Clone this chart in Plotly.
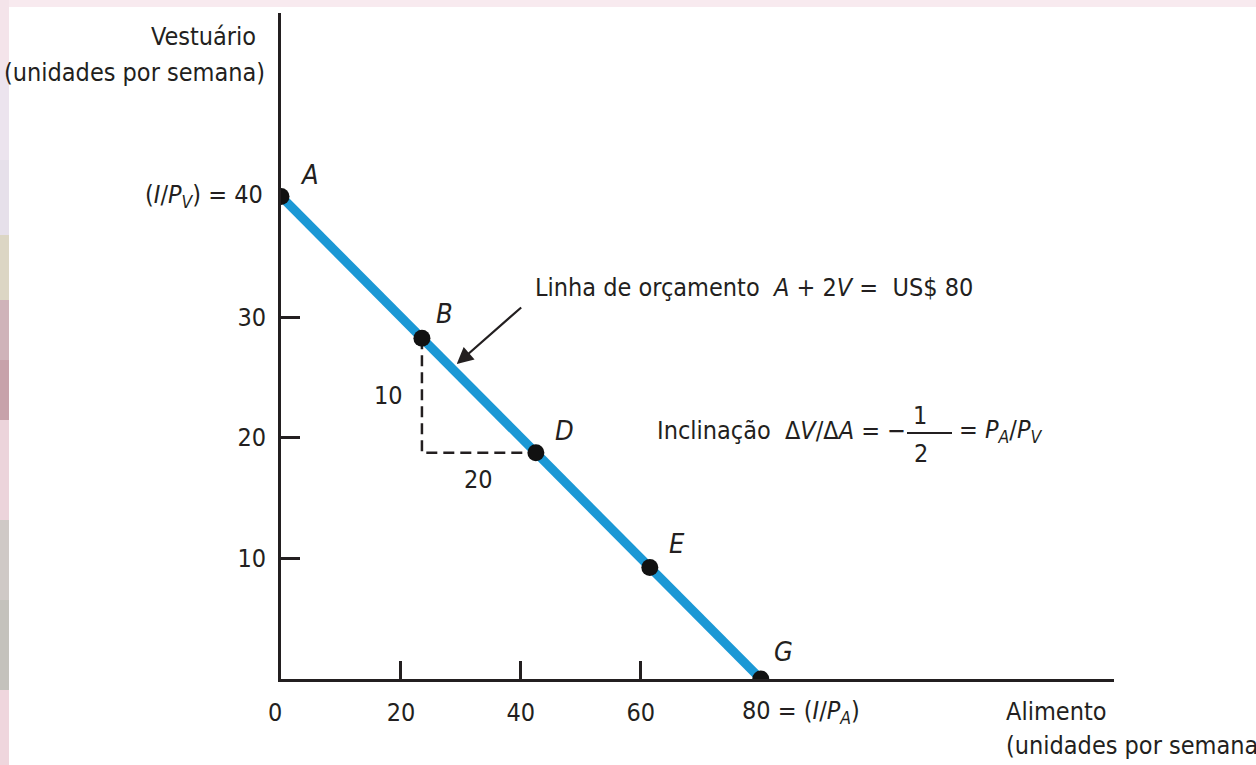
import plotly.graph_objects as go

# Budget line A + 2V = 80: intercepts on each axis
budget_food = [0, 80]
budget_clothing = [40, 0]

# Market baskets marked on the budget line
basket_names = ["A", "B", "D", "E", "G"]
basket_food = [0, 23.5, 42.5, 61.5, 80]
basket_clothing = [40, 28.25, 18.75, 9.25, 0]

# Rise/run triangle between B and D
rise_label = "10"
run_label = "20"

x_tick_vals = [20, 40, 60]
y_tick_vals = [10, 20, 30]

W, H = 1256, 765
ML, MR, MT, MB = 281, 142, 13, 86
X_MAX = 138.9
Y_MAX = 55.2

FONT = "DejaVu Sans Condensed, Liberation Sans Narrow, Arial Narrow, sans-serif"
INK = "#231f20"
BLUE = "#1b98d5"
FS = 25


def px(x):
    return (x - ML) / (W - ML - MR)


def py(y):
    return (H - MB - y) / (H - MT - MB)


def txt(size=FS):
    return dict(size=size, color=INK, family=FONT)


fig = go.Figure()

# dashed rise/run guide
bx, by = basket_food[1], basket_clothing[1]
dx, dy = basket_food[2], basket_clothing[2]
fig.add_trace(go.Scatter(
    x=[bx, bx, dx], y=[by, dy, dy], mode="lines",
    line=dict(color=INK, width=2.5, dash="11px,6px"),
    hoverinfo="skip", showlegend=False,
))

# budget line
fig.add_trace(go.Scatter(
    x=budget_food, y=budget_clothing, mode="lines",
    line=dict(color=BLUE, width=9),
    hoverinfo="skip", showlegend=False,
))

# baskets
fig.add_trace(go.Scatter(
    x=basket_food, y=basket_clothing, mode="markers",
    marker=dict(color="#111111", size=17),
    hoverinfo="skip", showlegend=False,
))

ann = []
label_offsets = {"A": (28, 22), "B": (23, 25), "D": (29, 22), "E": (27, 24), "G": (23, 28)}
for name, fx, cy in zip(basket_names, basket_food, basket_clothing):
    sx, sy = label_offsets[name]
    ann.append(dict(x=fx, y=cy, xref="x", yref="y", text=f"<i>{name}</i>",
                    showarrow=False, xshift=sx, yshift=sy, font=txt(27)))

# rise and run labels
ann.append(dict(x=bx, y=(by + dy) / 2, xref="x", yref="y", text=rise_label,
                showarrow=False, xanchor="right", xshift=-17, font=txt()))
ann.append(dict(x=(bx + dx) / 2, y=dy, xref="x", yref="y", text=run_label,
                showarrow=False, yshift=-27, font=txt()))

# intercept labels
ann.append(dict(x=0, y=budget_clothing[0], xref="x", yref="y",
                text="(<i>I</i>/<i>P<sub>V</sub></i>) = 40",
                showarrow=False, xanchor="right", xshift=-16, font=txt()))
ann.append(dict(x=budget_food[1], y=0, xref="x", yref="y",
                text="80 = (<i>I</i>/<i>P<sub>A</sub></i>)",
                showarrow=False, xanchor="left", xshift=-21, yshift=-33,
                font=txt()))
ann.append(dict(x=0, y=0, xref="x", yref="y", text="0",
                showarrow=False, xshift=-6, yshift=-33, font=txt()))

# arrow pointing at the budget line
ann.append(dict(x=29.3, y=26.1, xref="x", yref="y", ax=40.3, ay=30.9,
                axref="x", ayref="y", text="", showarrow=True,
                arrowhead=2, arrowsize=1.5, arrowwidth=2.2, arrowcolor=INK))
ann.append(dict(x=px(533), y=py(287), xref="paper", yref="paper",
                text="Linha de orçamento\u00a0 <i>A</i> + 2<i>V</i> =\u00a0 US$ 80",
                showarrow=False, xanchor="left", yanchor="middle", font=txt()))

# slope annotation with a stacked fraction
ann.append(dict(x=px(655), y=py(431), xref="paper", yref="paper",
                text="Inclinação\u00a0 Δ<i>V</i>/Δ<i>A</i> = −",
                showarrow=False, xanchor="left", yanchor="middle", font=txt()))
ann.append(dict(x=px(929), y=py(415), xref="paper", yref="paper", text="1",
                showarrow=False, yanchor="middle", font=txt()))
ann.append(dict(x=px(930), y=py(453), xref="paper", yref="paper", text="2",
                showarrow=False, yanchor="middle", font=txt()))
ann.append(dict(x=px(957), y=py(431), xref="paper", yref="paper",
                text="= <i>P<sub>A</sub></i>/<i>P<sub>V</sub></i>",
                showarrow=False, xanchor="left", yanchor="middle", font=txt()))

# axis titles
ann.append(dict(x=px(258), y=py(36), xref="paper", yref="paper", text="Vestuário",
                showarrow=False, xanchor="right", yanchor="middle", font=txt()))
ann.append(dict(x=px(267), y=py(73), xref="paper", yref="paper",
                text="(unidades por semana)",
                showarrow=False, xanchor="right", yanchor="middle", font=txt()))
ann.append(dict(x=px(1004), y=py(711), xref="paper", yref="paper", text="Alimento",
                showarrow=False, xanchor="left", yanchor="middle", font=txt()))
ann.append(dict(x=px(1004), y=py(745), xref="paper", yref="paper",
                text="(unidades por semana)",
                showarrow=False, xanchor="left", yanchor="middle", font=txt()))

shapes = []
# fraction bar
shapes.append(dict(type="line", xref="paper", yref="paper",
                   x0=px(907), x1=px(952), y0=py(433), y1=py(433),
                   line=dict(color=INK, width=2)))

# page frame: pink band on top and decorated strip on the left
shapes.append(dict(type="rect", xref="paper", yref="paper", layer="below",
                   x0=px(0), x1=px(W), y0=py(0), y1=py(7),
                   fillcolor="#f8eaef", line=dict(width=0)))
strip = [
    (0, 70, "#f4e4ea"), (70, 160, "#ece4ee"), (160, 235, "#e6e0ea"),
    (235, 300, "#dcd6c4"), (300, 360, "#cfb3b9"), (360, 420, "#c7a2aa"),
    (420, 520, "#ecd4db"), (520, 600, "#cfc9c6"), (600, 690, "#c4c2bc"),
    (690, 765, "#efd6dd"),
]
for y0, y1, col in strip:
    shapes.append(dict(type="rect", xref="paper", yref="paper", layer="below",
                       x0=px(0), x1=px(9), y0=py(y0), y1=py(y1),
                       fillcolor=col, line=dict(width=0)))

fig.update_layout(
    width=W, height=H,
    margin=dict(l=ML, r=MR, t=MT, b=MB, pad=0),
    paper_bgcolor="white", plot_bgcolor="white",
    showlegend=False,
    annotations=ann, shapes=shapes,
    font=dict(family=FONT, size=FS, color=INK),
    xaxis=dict(range=[0, X_MAX], showgrid=False, zeroline=False,
               showline=True, linecolor=INK, linewidth=3,
               ticks="inside", ticklen=18, tickwidth=2.5, tickcolor=INK,
               tickvals=x_tick_vals, ticktext=[str(v) for v in x_tick_vals],
               ticklabelstandoff=9,
               tickfont=txt(), fixedrange=True),
    yaxis=dict(range=[0, Y_MAX], showgrid=False, zeroline=False,
               showline=True, linecolor=INK, linewidth=3,
               ticks="inside", ticklen=19, tickwidth=2.5, tickcolor=INK,
               tickvals=y_tick_vals, ticktext=[str(v) for v in y_tick_vals],
               ticklabelstandoff=7,
               tickfont=txt(), fixedrange=True),
)

fig.write_html("out.html")
